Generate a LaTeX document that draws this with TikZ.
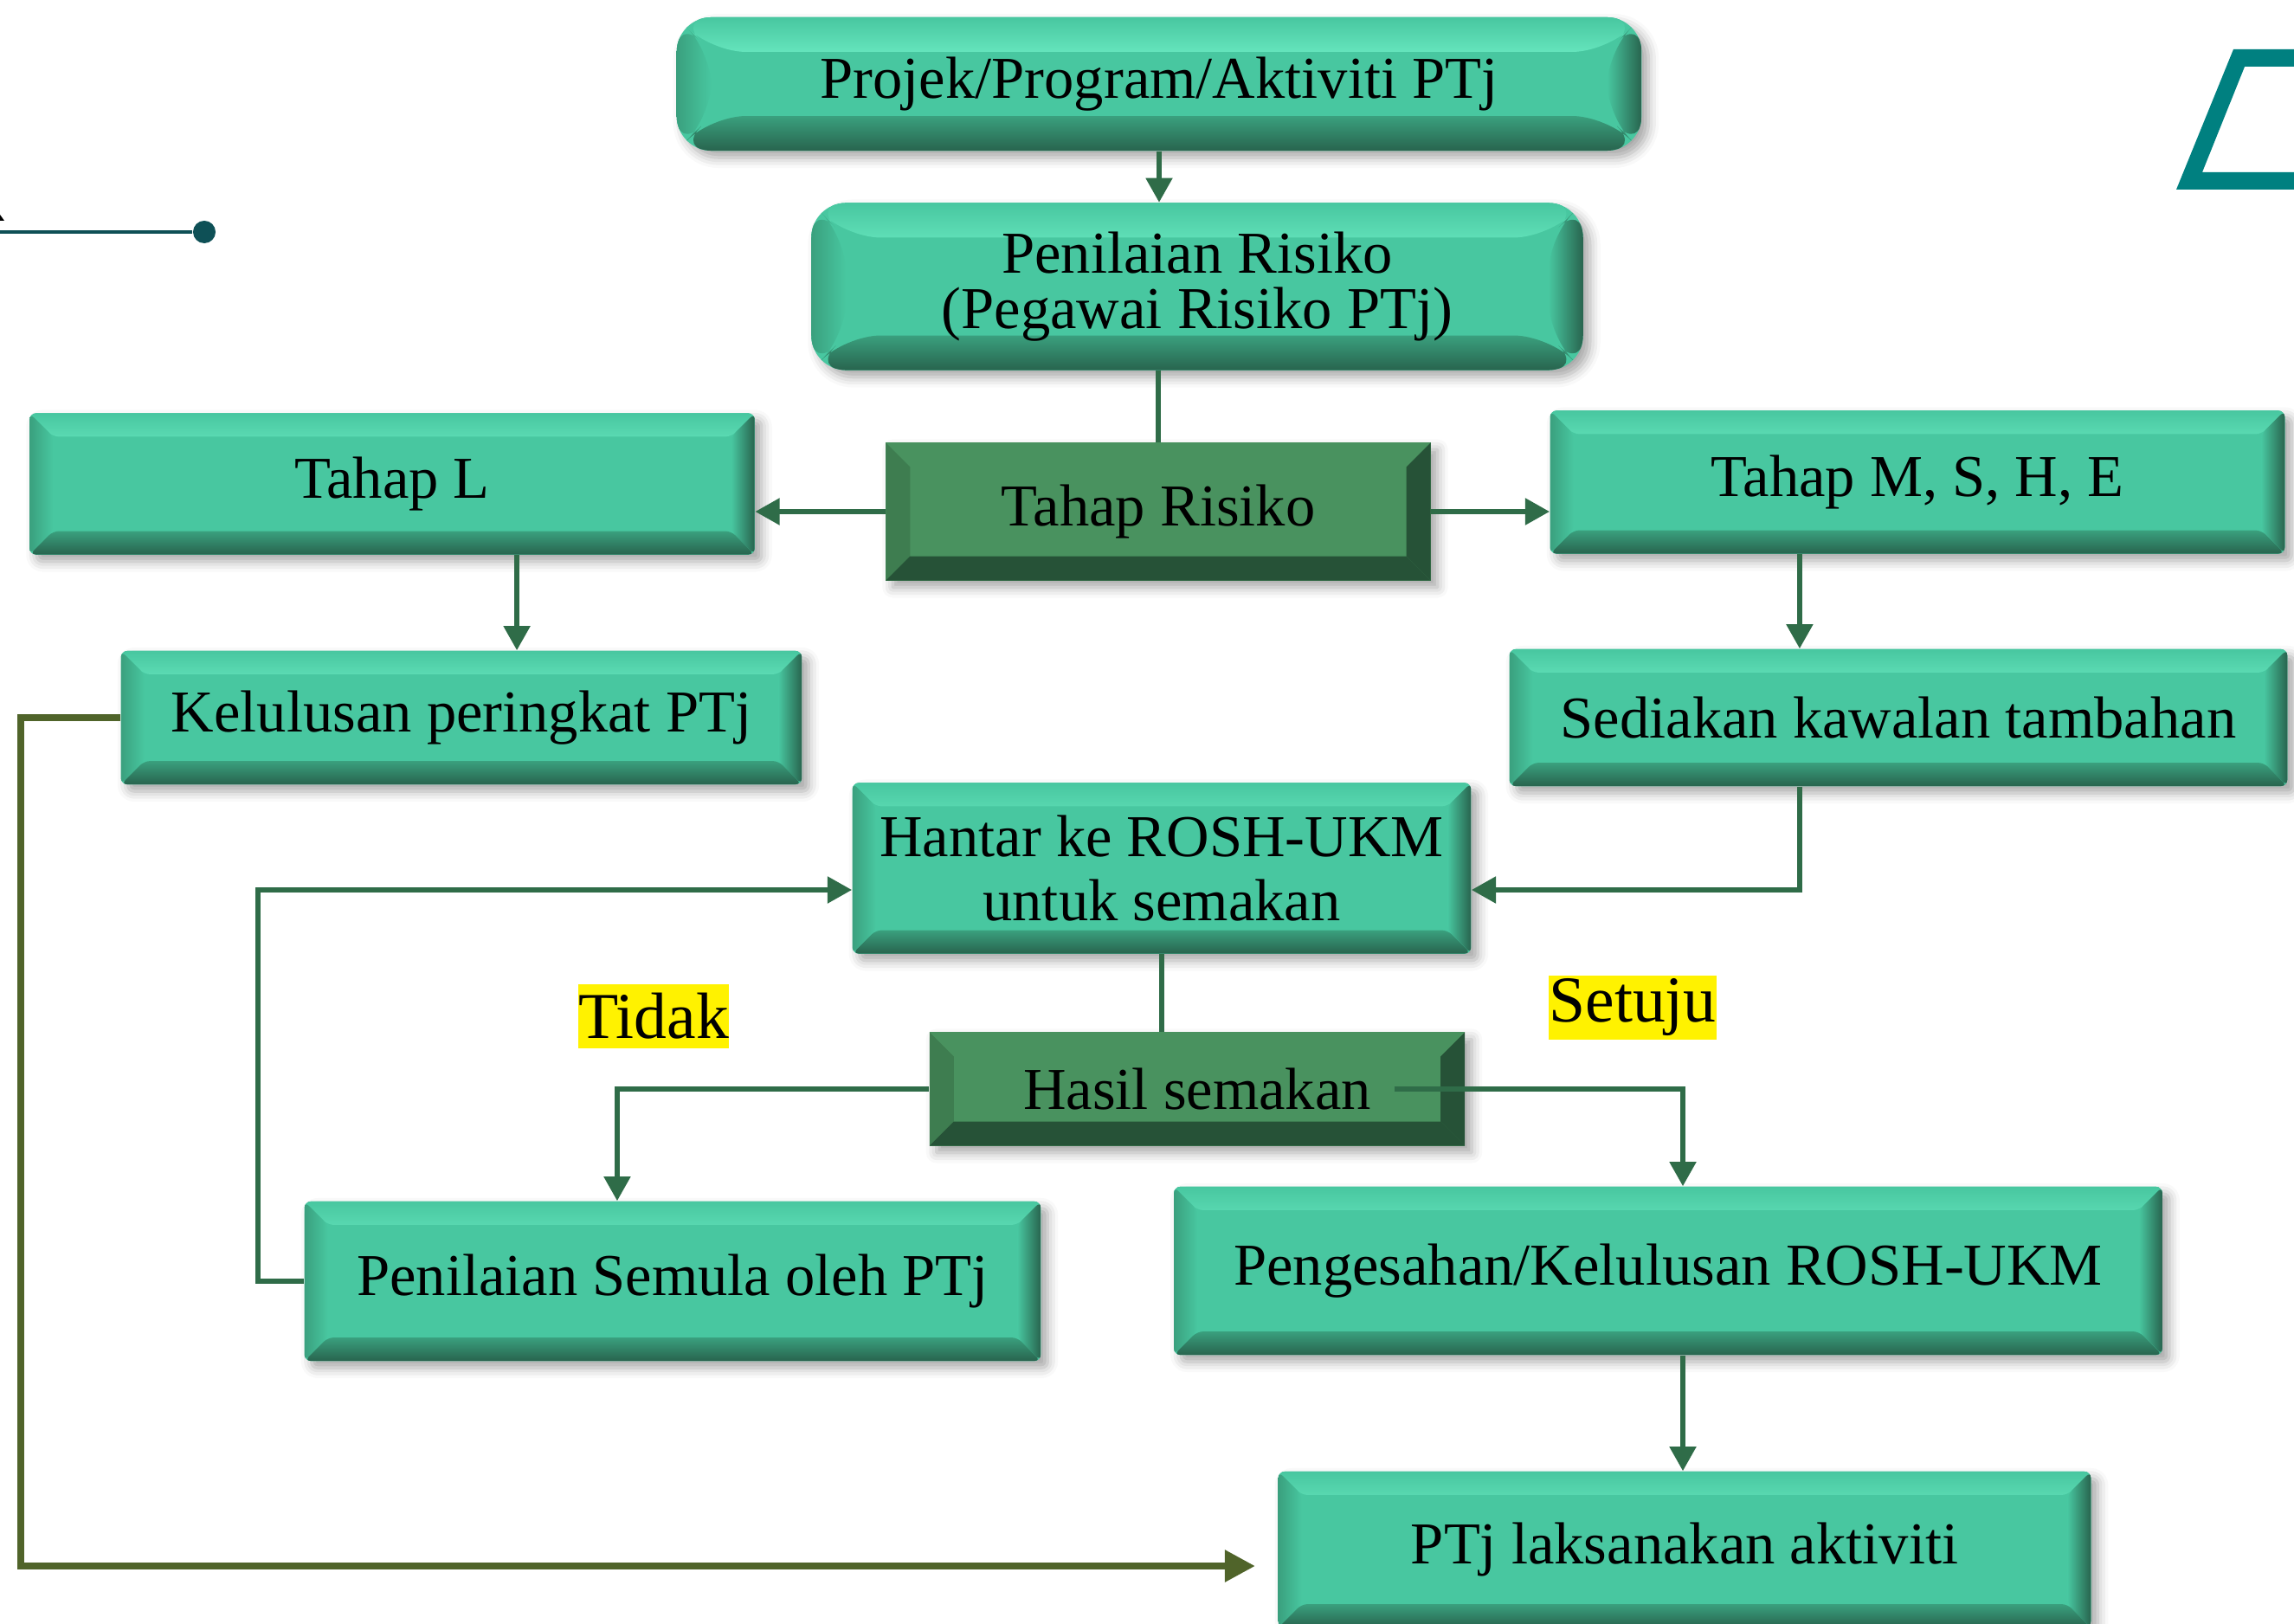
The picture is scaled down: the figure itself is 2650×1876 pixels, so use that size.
\documentclass[tikz,border=0pt]{standalone}
\usepackage{fontspec}
\setmainfont{Liberation Serif}
\usetikzlibrary{arrows.meta,shadows.blur}

\definecolor{boxfill}{RGB}{72,199,160}
\definecolor{boxhigh}{RGB}{127,255,214}
\definecolor{boxside}{RGB}{58,160,126}
\definecolor{boxdark}{RGB}{40,100,78}
\definecolor{riskfill}{RGB}{73,146,95}
\definecolor{riskleft}{RGB}{62,125,80}
\definecolor{riskdark}{RGB}{38,82,55}
\definecolor{linegreen}{RGB}{47,108,72}
\definecolor{backolive}{RGB}{80,100,42}
\definecolor{tealline}{RGB}{14,80,86}
\definecolor{tealframe}{RGB}{0,128,128}

\newcommand\bfont{\fontsize{19.5}{21}\selectfont}
\newcommand\bevelpic[5]{%
  \fill[#2] (path picture bounding box.north west) -- (path picture bounding box.north east)
    -- ([xshift=-#1,yshift=-#1]path picture bounding box.north east)
    -- ([xshift=#1,yshift=-#1]path picture bounding box.north west) -- cycle;
  \fill[#3] (path picture bounding box.north west) -- ([xshift=#1,yshift=-#1]path picture bounding box.north west)
    -- ([xshift=#1,yshift=#1]path picture bounding box.south west) -- (path picture bounding box.south west) -- cycle;
  \fill[#4] (path picture bounding box.north east) -- ([xshift=-#1,yshift=-#1]path picture bounding box.north east)
    -- ([xshift=-#1,yshift=#1]path picture bounding box.south east) -- (path picture bounding box.south east) -- cycle;
  \fill[#5] (path picture bounding box.south west) -- ([xshift=#1,yshift=#1]path picture bounding box.south west)
    -- ([xshift=-#1,yshift=#1]path picture bounding box.south east) -- (path picture bounding box.south east) -- cycle;
}

\begin{document}
\begin{tikzpicture}[x=0.01cm,y=-0.01cm,
    lbox/.style={fill=boxfill, rounded corners=2pt, inner sep=0pt, align=center, font=\bfont,
      blur shadow={shadow xshift=0.8mm, shadow yshift=-0.8mm, shadow blur radius=1.2mm, shadow opacity=35},
      path picture={\bevelpic{0.27cm}{top color=boxfill,bottom color=boxfill,middle color=boxhigh}%
        {left color=boxside,right color=boxfill}{left color=boxfill,right color=boxdark}%
        {top color=boxside,bottom color=boxdark}}},
    rbox/.style={lbox, rounded corners=0.4cm,
      path picture={\bevelpic{0.4cm}{top color=boxfill,bottom color=boxfill,middle color=boxhigh}%
        {left color=boxside,right color=boxfill}{left color=boxfill,right color=boxdark}%
        {top color=boxside,bottom color=boxdark}}},
    dbox/.style={lbox, fill=riskfill, rounded corners=0pt,
      path picture={\bevelpic{0.28cm}{riskfill}{riskleft}{riskdark}{riskdark}}},
    conn/.style={draw=linegreen, line width=1.6pt, -{Triangle[length=8pt,width=8.5pt]}},
    link/.style={draw=linegreen, line width=1.6pt},
    back/.style={draw=backolive, line width=2.4pt, -{Triangle[length=10pt,width=10pt]}, shorten >=0.26cm},
    hilite/.style={fill=yellow, inner xsep=1pt, inner sep=0pt, minimum height=0.74cm,
      font=\fontsize{21.5}{22}\selectfont}]

  \useasboundingbox (0,0) rectangle (2650,1876);
  \clip (0,0) rectangle (2650,1876);

  \node[rbox, minimum width=11.14cm, minimum height=1.54cm](proj) at (1339,97){Projek/Program/Aktiviti PTj};
  \node[rbox, minimum width=8.91cm, minimum height=1.93cm](peni) at (1383,331){Penilaian Risiko\\[-3pt](Pegawai Risiko PTj)};

  \node[lbox, minimum width=8.37cm, minimum height=1.63cm](tahapL) at (453,559){Tahap L};
  \node[dbox, minimum width=6.29cm, minimum height=1.59cm](risiko) at (1338,591){Tahap Risiko};
  \node[lbox, minimum width=8.48cm, minimum height=1.65cm](tahapM) at (2215,557){Tahap M, S, H, E};

  \node[lbox, minimum width=7.86cm, minimum height=1.54cm](lulus) at (533,829){Kelulusan peringkat PTj};
  \node[lbox, minimum width=8.98cm, minimum height=1.58cm](sedia) at (2193,829){Sediakan kawalan tambahan};

  \node[lbox, minimum width=7.14cm, minimum height=1.97cm](hantar) at (1342,1003){Hantar ke ROSH-UKM\\untuk semakan};
  \node[dbox, minimum width=6.18cm, minimum height=1.31cm](hasil) at (1383,1258){Hasil semakan};

  \node[lbox, minimum width=8.50cm, minimum height=1.84cm](semula) at (777,1480){Penilaian Semula oleh PTj};
  \node[lbox, minimum width=11.41cm, minimum height=1.94cm](sah) at (1927,1468){Pengesahan/Kelulusan ROSH-UKM};
  \node[lbox, minimum width=9.38cm, minimum height=1.80cm](laksana) at (1946,1790){PTj laksanakan aktiviti};

  \node[hilite](tidak) at (755,1174){Tidak};
  \node[hilite](setuju) at (1886,1164){Setuju};

  \draw[conn] (proj.south) -- (proj.south |- peni.north);
  \draw[link] (risiko.north |- peni.south) -- (risiko.north);
  \draw[conn] (risiko.west) -- (risiko.west -| tahapL.east);
  \draw[conn] (risiko.east) -- (risiko.east -| tahapM.west);
  \draw[conn] ([xshift=1.44cm]tahapL.south) -- ([xshift=1.44cm]tahapL.south |- lulus.north);
  \draw[conn] ([xshift=-1.36cm]tahapM.south) -- ([xshift=-1.36cm]tahapM.south |- sedia.north);
  \draw[conn] ([xshift=-1.14cm]sedia.south) |- ([yshift=-0.25cm]hantar.east);
  \draw[conn] (semula.west) -- ++(-53,0) |- ([yshift=-0.25cm]hantar.west);
  \draw[link] (hantar.south) -- (hantar.south |- hasil.north);
  \draw[conn] (hasil.west) -| ([xshift=-0.64cm]semula.north);
  \draw[conn] ([xshift=-0.82cm]hasil.east) -| ([xshift=0.17cm]sah.north);
  \draw[conn] ([xshift=0.17cm]sah.south) -- ([xshift=0.17cm]sah.south |- laksana.north);
  \draw[back] (lulus.west) -- ++(-115,0) |- ([yshift=-0.19cm]laksana.west);

  \coordinate(lstart) at (0,268);
  \node[circle, fill=tealline, inner sep=0pt, minimum size=0.26cm](dot) at (236,268){};
  \draw[tealline, line width=1.2pt] (lstart) -- (dot);
  \fill (0,248) -- (5,255) -- (0,255) -- cycle;

  \fill[tealframe, even odd rule] (2514,219) -- (2580,57) -- (2700,57) -- (2700,219) -- cycle
    (2544,199) -- (2593,77) -- (2700,77) -- (2700,199) -- cycle;

\end{tikzpicture}
\end{document}
